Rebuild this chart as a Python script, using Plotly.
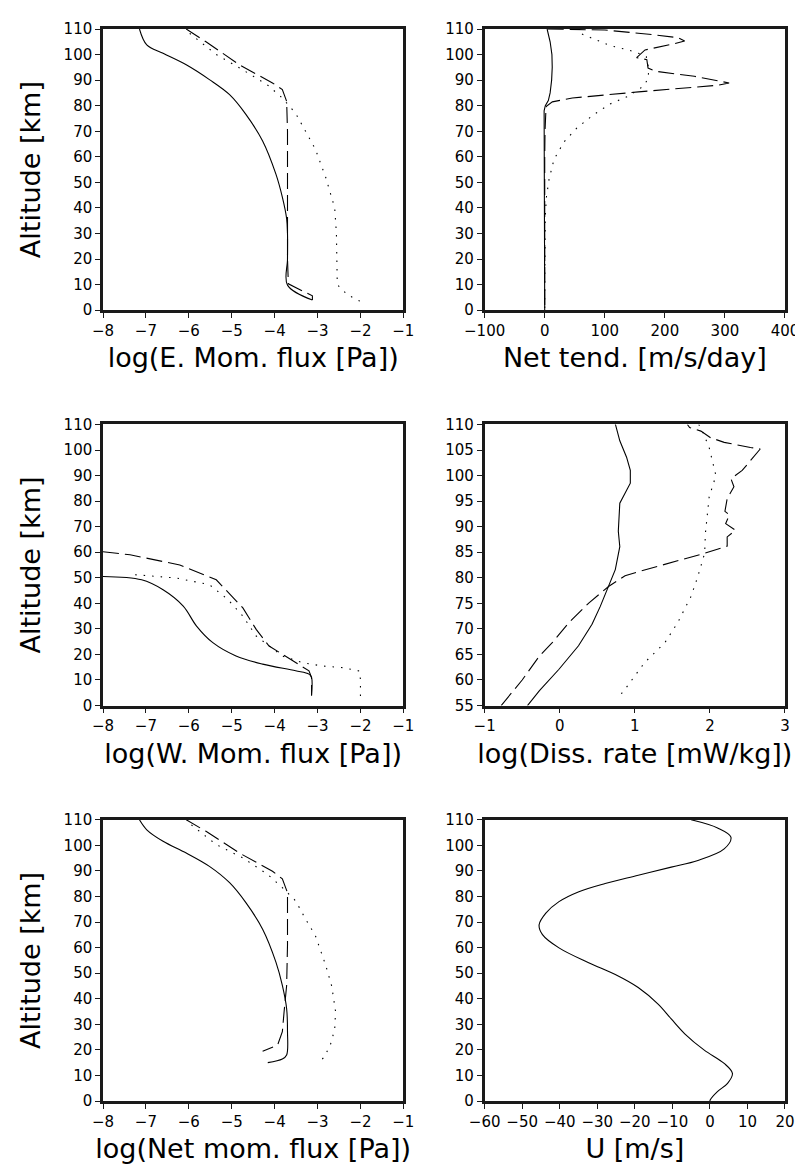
import plotly.graph_objects as go

# ---- E. mom. flux (log10 Pa) ----
emf_solid_alt = [110, 103.8, 100.5, 96, 90.2, 84.3, 76.6, 66.2, 53.2, 44.2, 35.8, 30, 20, 9.8, 4.0]
emf_solid = [-7.15, -6.98, -6.6, -6.06, -5.52, -5.05, -4.67, -4.28, -3.97, -3.82, -3.72, -3.70, -3.70, -3.70, -3.12]
emf_dash_alt = [110, 105, 96, 88.9, 86.3, 81.7, 70, 50, 35, 20, 10.3, 5.6, 4.0]
emf_dash = [-6.06, -5.6, -4.82, -4.05, -3.82, -3.72, -3.70, -3.70, -3.70, -3.70, -3.68, -3.12, -3.12]
emf_dot_alt = [108.3, 100, 94, 88, 83, 77, 70, 63, 52, 45, 40, 30, 20, 10, 6, 3]
emf_dot = [-5.98, -5.36, -4.74, -4.16, -3.82, -3.51, -3.28, -3.05, -2.81, -2.68, -2.6, -2.56, -2.55, -2.54, -2.3, -1.95]

# ---- Net tendency (m/s/day) ----
nt_solid_alt = [110, 105, 100, 95, 90, 85, 82, 80, 78, 70, 60, 50, 40, 30, 20, 10, 0]
nt_solid = [4, 9, 12, 12.5, 11.5, 9, 6, 1, -1, -1, -0.5, 0, 0, 0, 0, 0, 0]
nt_dash_alt = [110, 109.6, 107.8, 106.6, 105.3, 104, 101.8, 98.8, 98, 94.7, 93.4, 91.5, 88.9, 88,
               85.4, 83, 81.5, 79.8, 77.2, 70, 60, 50, 40, 30, 20, 10, 0]
nt_dash = [5, 100, 180, 222, 233, 211, 167, 153, 170, 172, 186, 249, 307, 288,
           156, 46, 12.7, 2.8, 1.8, 0.5, 0, 0, 0, 0, 0, 0, 0]
nt_dot_alt = [108, 106.4, 103.5, 101.8, 100.5, 99.2, 96, 90.8, 87.6, 83.7, 80.7, 76.4, 71.4, 65.8,
              59, 51.3, 44.2, 37, 30, 20, 10, 0]
nt_dot = [62, 79, 109, 139, 156, 169, 172, 173, 164, 139, 109, 81, 54, 32,
          15.5, 7.3, 2.8, 1, 0.5, 0, 0, 0]

# ---- W. mom. flux (log10 Pa) ----
wmf_solid_alt = [50.5, 49.2, 45.3, 38.9, 31.1, 24.6, 19.4, 16.2, 13.6, 12.3, 11, 3.9]
wmf_solid = [-8, -7.1, -6.6, -6.13, -5.82, -5.44, -4.9, -4.28, -3.51, -3.2, -3.14, -3.14]
wmf_dash_alt = [60.2, 59, 55, 49.2, 38.2, 29.8, 23.3, 16.8, 13.6, 11, 3.9]
wmf_dash = [-8, -7.37, -6.21, -5.36, -4.74, -4.43, -4.13, -3.51, -3.2, -3.14, -3.14]
wmf_dot_alt = [51.2, 49.9, 47.3, 41.5, 35, 27.2, 19.4, 16.8, 15.5, 14.8, 13.5, 10, 2]
wmf_dot = [-7.25, -6.29, -5.52, -5.09, -4.74, -4.43, -3.82, -3.36, -2.89, -2.4, -2.02, -2.0, -2.0]

# ---- Dissipation rate (log10 mW/kg) ----
dr_solid_alt = [110.1, 106.8, 103.6, 101, 98.5, 94.6, 89.1, 86.1, 81.6, 78.3, 74.4, 70.9, 66.7, 62.1, 57.9, 55]
dr_solid = [0.74, 0.80, 0.89, 0.94, 0.94, 0.80, 0.78, 0.80, 0.74, 0.65, 0.54, 0.43, 0.25, -0.01, -0.27, -0.43]
dr_dash_alt = [55, 60, 64.7, 67.3, 71.2, 75.1, 78.3, 80.4, 81.2, 83, 84.8, 86.2, 88, 89.3, 90.6, 92.3,
               93, 95.5, 97.8, 99.4, 101, 105.2, 105.5, 106.5, 107.4, 108.7, 109.4, 110]
dr_dash = [-0.78, -0.5, -0.27, -0.10, 0.12, 0.39, 0.65, 0.87, 1.05, 1.49, 1.93, 2.23, 2.23, 2.34, 2.21, 2.26,
           2.2, 2.23, 2.32, 2.28, 2.43, 2.67, 2.54, 2.19, 2.01, 1.88, 1.73, 1.7]
dr_dot_alt = [110, 109.4, 105.5, 100, 95.8, 93, 88.7, 84.8, 80.3, 76.4, 71.2, 67.3, 63.4, 58.2, 56.4]
dr_dot = [1.85, 1.88, 1.99, 2.08, 1.99, 1.97, 1.94, 1.93, 1.84, 1.75, 1.57, 1.40, 1.13, 0.87, 0.77]

# ---- Net mom. flux (log10 Pa) ----
nmf_solid_alt = [110, 106.1, 101.6, 97, 91.8, 85.4, 77.6, 67.2, 54.3, 45.2, 36.1, 27.1, 18, 16.4, 15]
nmf_solid = [-7.15, -6.98, -6.6, -6.06, -5.52, -5.05, -4.67, -4.28, -3.97, -3.82, -3.72, -3.70, -3.72, -3.82, -4.16]
nmf_dash_alt = [110, 105.5, 97, 89.9, 86.9, 81.5, 61, 45.2, 34.8, 27.1, 21.9, 19.5]
nmf_dash = [-6.06, -5.6, -4.82, -4.05, -3.82, -3.70, -3.70, -3.72, -3.78, -3.82, -3.93, -4.28]
nmf_dot_alt = [108, 100.3, 95.1, 88.6, 83.5, 78.3, 71.2, 64.7, 53.1, 45, 35, 28, 22, 17, 15]
nmf_dot = [-5.94, -5.36, -4.74, -4.16, -3.82, -3.51, -3.28, -3.05, -2.81, -2.67, -2.58, -2.6, -2.7, -2.85, -3.0]

# ---- Mean wind U (m/s) ----
u_alt = [110, 106.8, 103.2, 98.6, 94.1, 91.5, 88.3, 85.1, 81.9, 78, 73.5, 68.9, 65.1, 59.9, 54.1,
         49.5, 44.4, 37.9, 32.1, 26.3, 19.9, 14.7, 10.8, 6.9, 3.7, 0.5, 0]
u_wind = [-5, 2.05, 5.6, 3.8, -3.2, -10.3, -19.1, -27.9, -34.9, -40.2, -43.7, -45.5, -44.6, -40.2, -32.3,
          -25.2, -19.1, -13.8, -10.3, -6.7, -1.5, 3.8, 6.0, 4.7, 2.0, 0.1, 0]

x_titles = ["log(E. Mom. flux [Pa])", "Net tend. [m/s/day]",
            "log(W. Mom. flux [Pa])", "log(Diss. rate [mW/kg])",
            "log(Net mom. flux [Pa])", "U [m/s]"]

FONT = "DejaVu Sans"
DASH = "16px,6px"
DOT = "1.5px,7px"

fig = go.Figure()


def add_line(n, x, y, dash="solid", shape="linear"):
    sfx = "" if n == 1 else str(n)
    fig.add_trace(go.Scatter(x=x, y=y, mode="lines", xaxis="x" + sfx, yaxis="y" + sfx,
                             line=dict(color="black", width=1.1, dash=dash, shape=shape),
                             showlegend=False, hoverinfo="skip"))


add_line(1, emf_solid, emf_solid_alt, shape="spline")
add_line(1, emf_dash, emf_dash_alt, DASH)
add_line(1, emf_dot, emf_dot_alt, DOT)
add_line(2, nt_solid, nt_solid_alt)
add_line(2, nt_dash, nt_dash_alt, DASH)
add_line(2, nt_dot, nt_dot_alt, DOT)
add_line(3, wmf_solid, wmf_solid_alt, shape="spline")
add_line(3, wmf_dash, wmf_dash_alt, DASH)
add_line(3, wmf_dot, wmf_dot_alt, DOT)
add_line(4, dr_solid, dr_solid_alt)
add_line(4, dr_dash, dr_dash_alt, DASH)
add_line(4, dr_dot, dr_dot_alt, DOT)
add_line(5, nmf_solid, nmf_solid_alt, shape="spline")
add_line(5, nmf_dash, nmf_dash_alt, DASH)
add_line(5, nmf_dot, nmf_dot_alt, DOT)
add_line(6, u_wind, u_alt, shape="spline")

# plot area: 803x1165 page, margins chosen so domains map to the reference boxes
xdom = {0: [0, 0.4404], 1: [0.5596, 1.0]}
ydom = {0: [0.7377, 1.0], 1: [0.3689, 0.6311], 2: [0.0, 0.2623]}
x_ranges = [[-8, -1], [-100, 400], [-8, -1], [-1, 3], [-8, -1], [-60, 20]]
x_dticks = [1, 100, 1, 1, 1, 10]

axis_common = dict(showline=True, linecolor="#1a1a1a", linewidth=2.5, mirror=True,
                   ticks="outside", ticklen=5, tickwidth=1.2, tickcolor="#1a1a1a",
                   showgrid=False, zeroline=False,
                   tickfont=dict(family=FONT, size=15, color="black"))

layout = {}
for i in range(6):
    row, col = divmod(i, 2)
    sfx = "" if i == 0 else str(i + 1)
    layout["xaxis" + sfx] = dict(axis_common, domain=xdom[col], range=x_ranges[i], dtick=x_dticks[i],
                                 tick0=0, anchor="y" + sfx,
                                 title=dict(text=x_titles[i], standoff=10,
                                            font=dict(family=FONT, size=27, color="black")))
    if i == 3:
        yr, ydt = [55, 110], 5
    else:
        yr, ydt = [0, 110], 10
    ytitle = dict(text="Altitude [km]", standoff=16,
                  font=dict(family=FONT, size=27, color="black")) if col == 0 else None
    layout["yaxis" + sfx] = dict(axis_common, domain=ydom[row], range=yr, dtick=ydt, tick0=0,
                                 anchor="x" + sfx, title=ytitle)

fig.update_layout(**layout)
fig.update_layout(width=803, height=1165, margin=dict(l=95, r=20, t=14, b=72),
                  paper_bgcolor="white", plot_bgcolor="white")

fig.write_html("out.html")
